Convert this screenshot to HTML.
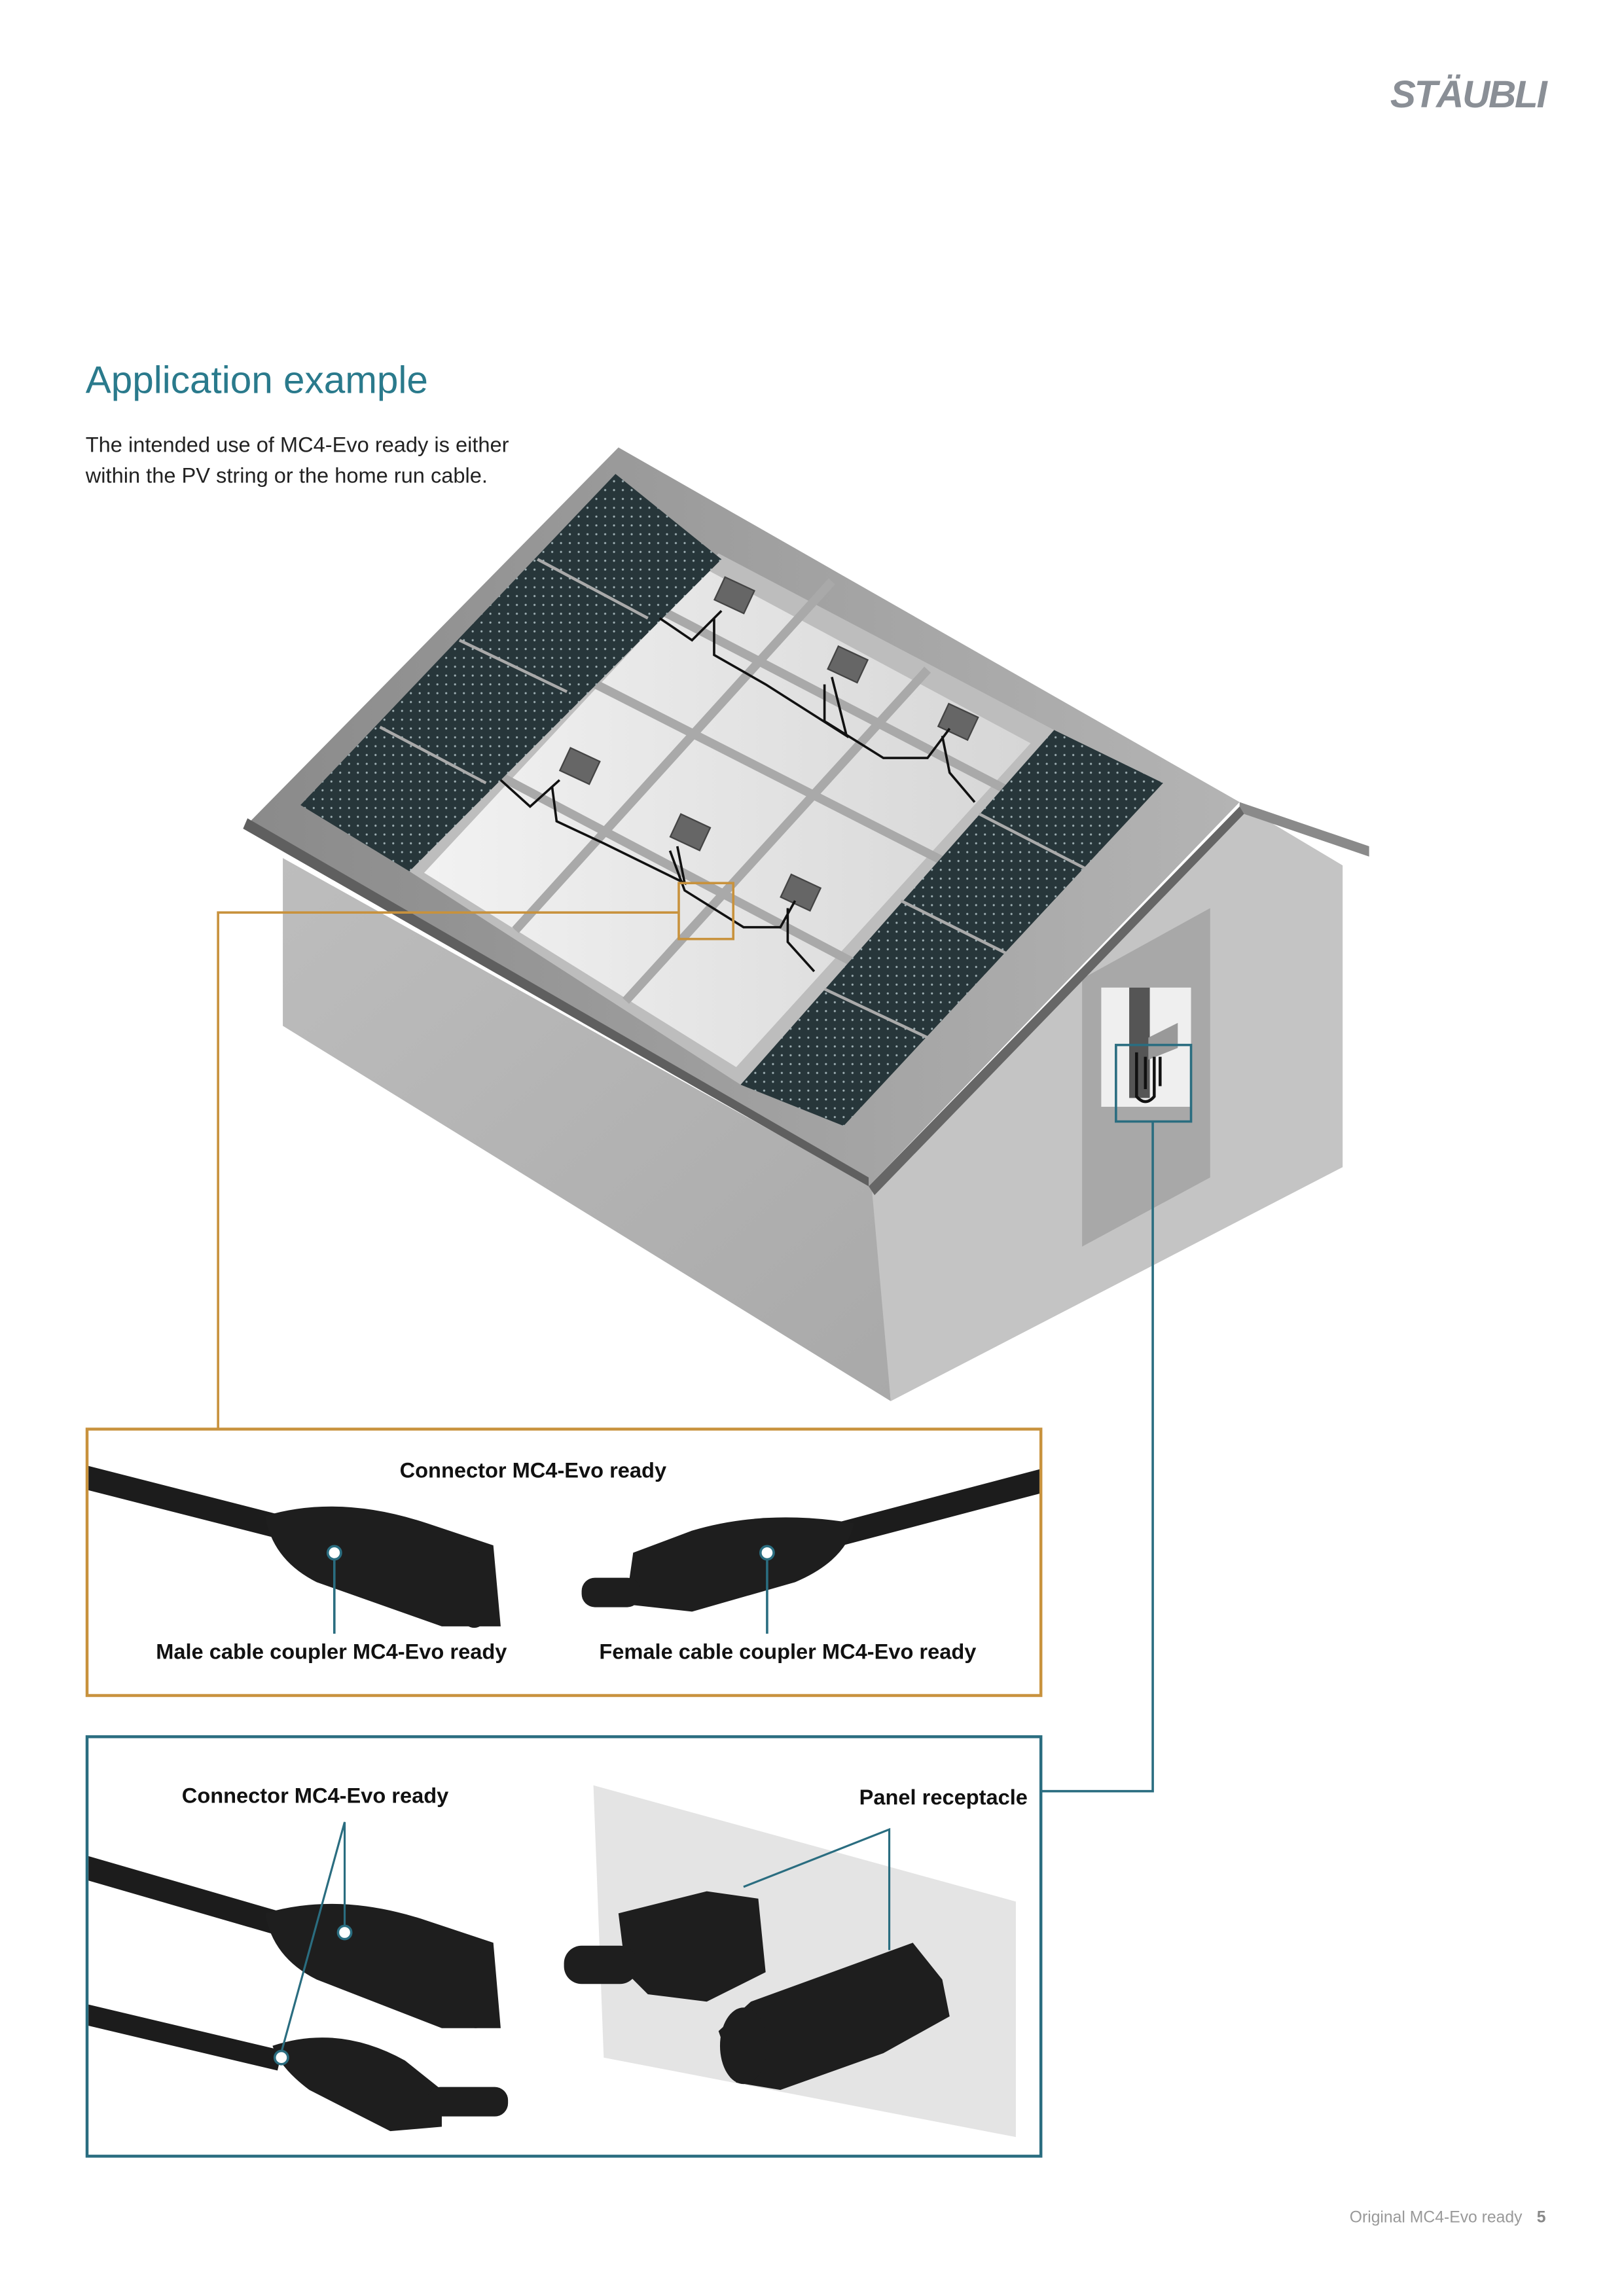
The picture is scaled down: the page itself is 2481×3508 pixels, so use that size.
<!DOCTYPE html>
<html><head><meta charset="utf-8"><style>
html,body{margin:0;padding:0;background:#fff}
svg{display:block}
text{font-family:"Liberation Sans",Arial,sans-serif}
</style></head><body>
<svg width="2481" height="3508" viewBox="0 0 1103 1560" xmlns="http://www.w3.org/2000/svg">
<defs>
<linearGradient id="roof" x1="0" y1="0" x2="1" y2="0"><stop offset="0" stop-color="#8a8a8a"/><stop offset="1" stop-color="#b4b4b4"/></linearGradient>
<linearGradient id="wallL" x1="0" y1="0" x2="1" y2="1"><stop offset="0" stop-color="#bdbdbd"/><stop offset="1" stop-color="#a9a9a9"/></linearGradient>
<linearGradient id="pan" x1="0" y1="0" x2="1" y2="0"><stop offset="0" stop-color="#f2f2f2"/><stop offset="1" stop-color="#d6d6d6"/></linearGradient>
<pattern id="cells" width="6" height="6" patternUnits="userSpaceOnUse"><rect width="6" height="6" fill="#27363a"/><circle cx="3" cy="3" r="0.7" fill="#9fb0b4"/></pattern>
<clipPath id="c1"><rect x="60" y="972" width="646" height="179"/></clipPath>
<clipPath id="c2"><rect x="60" y="1181" width="646" height="283"/></clipPath>
</defs>

<text x="1050" y="73" text-anchor="end" font-size="26" font-weight="bold" font-style="italic" fill="#8a8f96" letter-spacing="-1">STÄUBLI</text>

<text x="58" y="267" font-size="26" fill="#2a7a8c">Application example</text>
<text x="58" y="307" font-size="14.5" fill="#222">The intended use of MC4-Evo ready is either</text>
<text x="58" y="328" font-size="14.5" fill="#222">within the PV string or the home run cable.</text>

<!-- house -->
<polygon points="192,583 595,808 605,952 192,697" fill="url(#wallL)"/>
<polygon points="592,806 845,548 912,588 912,793 605,952" fill="#c4c4c4"/>
<polygon points="735,665 822,617 822,800 735,847" fill="#a8a8a8"/>
<polygon points="842,545 930,575 930,582 842,552" fill="#8a8a8a"/>
<polygon points="420,304 842,545 590,806 165,563" fill="url(#roof)"/>
<polygon points="165,563 590,806 590,800 168,556" fill="#5f5f5f"/>
<polygon points="590,806 842,548 845,553 594,812" fill="#666"/>
<polygon points="278,592 488,376 716,496 503,737" fill="#bdbdbd"/>
<polygon points="288,593 480,387 700,505 500,725" fill="url(#pan)"/>
<g stroke="#a9a9a9" stroke-width="6">
<line x1="350" y1="632" x2="565" y2="395"/><line x1="425" y1="680" x2="630" y2="455"/>
<line x1="335" y1="525" x2="610" y2="670"/><line x1="395" y1="460" x2="670" y2="600"/><line x1="440" y1="410" x2="690" y2="540"/>
</g>
<polygon points="204,547 418,322 490,380 278,592" fill="url(#cells)"/>
<line x1="312" y1="435" x2="385" y2="470" stroke="#aaa" stroke-width="2"/>
<line x1="258" y1="494" x2="330" y2="532" stroke="#aaa" stroke-width="2"/>
<line x1="365" y1="380" x2="440" y2="420" stroke="#aaa" stroke-width="2"/>
<polygon points="503,737 716,496 790,532 573,765" fill="url(#cells)"/>
<line x1="560" y1="672" x2="630" y2="705" stroke="#aaa" stroke-width="2"/>
<line x1="612" y1="612" x2="684" y2="648" stroke="#aaa" stroke-width="2"/>
<line x1="665" y1="553" x2="737" y2="590" stroke="#aaa" stroke-width="2"/>
<g fill="#666" stroke="#444" stroke-width="1">
<rect x="488" y="396" width="22" height="17" transform="rotate(25 499 404)"/>
<rect x="565" y="443" width="22" height="17" transform="rotate(25 576 451)"/>
<rect x="640" y="482" width="22" height="17" transform="rotate(25 651 490)"/>
<rect x="383" y="512" width="22" height="17" transform="rotate(25 394 520)"/>
<rect x="458" y="557" width="22" height="17" transform="rotate(25 469 565)"/>
<rect x="533" y="598" width="22" height="17" transform="rotate(25 544 606)"/>
</g>
<g fill="none" stroke="#111" stroke-width="1.6">
<path d="M448,420 L470,435 L490,415 M485,420 L485,445 L520,465 L575,500 L565,460 M560,465 L560,490 L600,515 L630,515 L645,495 M640,500 L645,525 L662,545"/>
<path d="M340,530 L360,548 L380,530 M375,535 L378,558 L410,573 L465,600 L460,575 M455,578 L465,605 L505,630 L530,630 L540,612 M535,617 L535,640 L553,660"/>
</g>
<rect x="461" y="600" width="37" height="38" fill="none" stroke="#c8923d" stroke-width="1.6"/>
<polyline points="461,620 148,620 148,971" fill="none" stroke="#c8923d" stroke-width="1.6"/>
<rect x="748" y="671" width="61" height="81" fill="#efefef"/>
<rect x="767" y="671" width="14" height="75" fill="#555"/>
<polygon points="780,705 800,695 800,712 780,720" fill="#999"/>
<path d="M772,715 L772,745 Q778,752 784,745 L784,718 M778,718 L778,740 M788,718 L788,738" fill="none" stroke="#111" stroke-width="2"/>
<rect x="758" y="710" width="51" height="52" fill="none" stroke="#2a6d80" stroke-width="1.6"/>
<polyline points="783,762 783,1217 707,1217" fill="none" stroke="#2a6d80" stroke-width="1.6"/>

<!-- orange box -->
<rect x="59" y="971" width="648" height="181" fill="#fff" stroke="#c8923d" stroke-width="2"/>
<g clip-path="url(#c1)">
<g stroke="#1c1c1c">
<line x1="55" y1="1003" x2="200" y2="1040" stroke-width="16"/>
<line x1="712" y1="1005" x2="560" y2="1045" stroke-width="16"/>
</g>
<g fill="#1e1e1e">
<path d="M180,1030 Q230,1015 290,1035 L335,1050 L340,1105 L300,1105 L215,1075 Q185,1060 180,1030Z"/>
<ellipse cx="322" cy="1080" rx="14" ry="26"/>
<path d="M580,1035 Q520,1025 470,1040 L430,1055 L425,1090 L470,1095 L540,1075 Q575,1060 580,1035Z"/>
<rect x="395" y="1072" width="40" height="20" rx="9"/>
</g>
</g>
<g stroke="#2a6d80" stroke-width="1.6"><line x1="227" y1="1055" x2="227" y2="1110"/><line x1="521" y1="1055" x2="521" y2="1110"/></g>
<g fill="#fff" stroke="#2a6d80" stroke-width="1.6"><circle cx="227" cy="1055" r="4.5"/><circle cx="521" cy="1055" r="4.5"/></g>
<g font-size="14.5" font-weight="bold" fill="#111" text-anchor="middle">
<text x="362" y="1004">Connector MC4-Evo ready</text>
<text x="225" y="1127">Male cable coupler MC4-Evo ready</text>
<text x="535" y="1127">Female cable coupler MC4-Evo ready</text>
</g>

<!-- teal box -->
<rect x="59" y="1180" width="648" height="285" fill="#fff" stroke="#2a6d80" stroke-width="2"/>
<polygon points="403,1213 690,1292 690,1452 410,1398" fill="#e4e4e4"/>
<g clip-path="url(#c2)">
<g stroke="#1c1c1c">
<line x1="55" y1="1268" x2="200" y2="1310" stroke-width="16"/>
<line x1="55" y1="1368" x2="190" y2="1400" stroke-width="14"/>
</g>
</g>
<g fill="#1e1e1e">
<path d="M180,1300 Q230,1285 290,1305 L335,1320 L340,1378 L300,1378 L215,1345 Q185,1330 180,1300Z"/>
<ellipse cx="323" cy="1352" rx="14" ry="26"/>
<path d="M185,1390 Q230,1375 275,1400 L300,1420 L300,1445 L265,1448 L210,1420 Q190,1405 185,1390Z"/>
<rect x="290" y="1418" width="55" height="20" rx="9"/>
<path d="M420,1300 L480,1285 L515,1290 L520,1340 L480,1360 L440,1355 L425,1340Z"/>
<rect x="383" y="1322" width="50" height="26" rx="12"/>
<path d="M510,1360 L620,1320 L640,1345 L645,1370 L600,1395 L530,1420 L500,1415 L488,1380Z"/>
<ellipse cx="505" cy="1390" rx="16" ry="26"/>
</g>
<g fill="none" stroke="#2a6d80" stroke-width="1.4">
<polyline points="234,1310 234,1238 190,1398"/>
<polyline points="505,1282 604,1243 604,1325"/>
</g>
<g fill="#fff" stroke="#2a6d80" stroke-width="1.6"><circle cx="234" cy="1313" r="4.5"/><circle cx="191" cy="1398" r="4.5"/></g>
<g font-size="14.5" font-weight="bold" fill="#111">
<text x="214" y="1225" text-anchor="middle">Connector MC4-Evo ready</text>
<text x="698" y="1226" text-anchor="end">Panel receptacle</text>
</g>

<text x="1034" y="1510" text-anchor="end" font-size="11" fill="#999">Original MC4-Evo ready</text>
<text x="1050" y="1510" text-anchor="end" font-size="11" font-weight="bold" fill="#888">5</text>
</svg>
</body></html>
